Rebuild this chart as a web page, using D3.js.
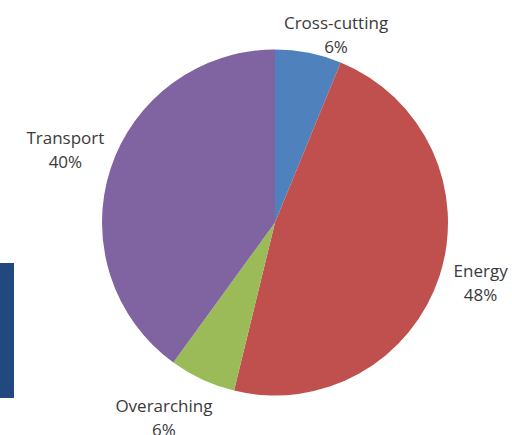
<!DOCTYPE html>
<html>
<head>
<meta charset="utf-8">
<script src="https://cdn.jsdelivr.net/npm/d3@7"></script>
<style>
  body { margin: 0; background: #fff; }
  svg text { font-family: "Open Sans", "Noto Sans", sans-serif; fill: #3a3a3a; }
</style>
</head>
<body>
<svg id="chart"></svg>
<script>
const categories = ['Cross-cutting', 'Energy', 'Overarching', 'Transport'];
const values = [6.2, 47.6, 6.2, 40.0];
const colors = ['#4f81bd', '#c0504d', '#9bbb59', '#8064a2'];

const width = 512;
const height = 435;
const cx = 275;
const cy = 222.5;
const radius = 173;

// label nudges from the outer label ring, by slice
const nudges = [[20, 18], [4, -7], [-22, 1], [-8, -9]];

const svg = d3.select('#chart')
  .attr('width', width)
  .attr('height', height);

// dark bar cut off at the left edge
svg.append('rect')
  .attr('x', 0)
  .attr('y', 263)
  .attr('width', 14)
  .attr('height', 135)
  .attr('fill', '#21497f');

const pie = d3.pie().sort(null).value((d) => d);
const arcs = pie(values);

const arc = d3.arc().innerRadius(0).outerRadius(radius);
const labelArc = d3.arc().innerRadius(212).outerRadius(212);

const g = svg.append('g')
  .attr('transform', `translate(${cx}, ${cy})`);

g.selectAll('path')
  .data(arcs)
  .enter()
  .append('path')
  .attr('d', arc)
  .attr('fill', (d, i) => colors[i]);

const total = d3.sum(values);
const pct = d3.format('.0%');

const labels = g.selectAll('g.label')
  .data(arcs)
  .enter()
  .append('g')
  .attr('class', 'label')
  .attr('transform', (d, i) => {
    const [x, y] = labelArc.centroid(d);
    return `translate(${x + nudges[i][0]}, ${y + nudges[i][1]})`;
  });

labels.append('text')
  .attr('text-anchor', 'middle')
  .attr('y', -4)
  .style('font-size', '17px')
  .text((d, i) => categories[i]);

labels.append('text')
  .attr('text-anchor', 'middle')
  .attr('y', 20)
  .style('font-size', '17px')
  .text((d) => pct(d.value / total));
</script>
</body>
</html>
